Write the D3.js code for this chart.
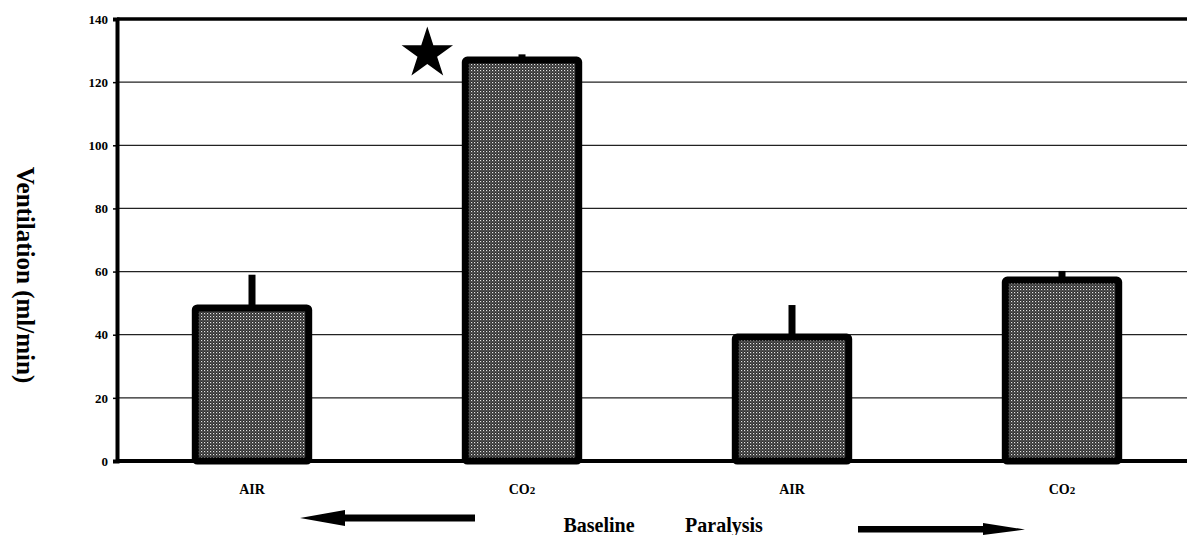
<!DOCTYPE html>
<html>
<head>
<meta charset="utf-8">
<script src="https://cdn.jsdelivr.net/npm/d3@7"></script>
<style>
  body { margin: 0; background: #fff; overflow: hidden; }
  svg { display: block; font-family: "Liberation Serif", "DejaVu Serif", serif; font-weight: bold; }
</style>
</head>
<body>
<svg id="chart" width="1187" height="535"></svg>
<script>
const categories = ['AIR', 'CO2', 'AIR', 'CO2'];
const values = [48.5, 127, 39.3, 57.3];
const errors = [10.5, 1.8, 10.1, 2.9];
const yTicks = [0, 20, 40, 60, 80, 100, 120, 140];
const starIndex = 1;
const starValue = 130;

const margin = { top: 19, right: -10, bottom: 74, left: 117 },
  width = 1187 - margin.left - margin.right,
  height = 535 - margin.top - margin.bottom;

const svg = d3.select('#chart');

// stipple fill of the bars
const defs = svg.append('defs');
const pat = defs.append('pattern')
  .attr('id', 'stipple')
  .attr('width', 3).attr('height', 3)
  .attr('patternUnits', 'userSpaceOnUse');
pat.append('rect').attr('width', 3).attr('height', 3).attr('fill', '#2e2e2e');
pat.append('rect').attr('x', 0).attr('y', 0).attr('width', 1.2).attr('height', 1.2).attr('fill', '#e4e4e4');
pat.append('rect').attr('x', 1.5).attr('y', 1.5).attr('width', 1).attr('height', 1).attr('fill', '#9a9a9a');

const g = svg.append('g')
  .attr('transform', 'translate(' + margin.left + ',' + margin.top + ')');

const x = d3.scaleBand()
  .domain(d3.range(categories.length))
  .range([0, width])
  .paddingInner(0.58)
  .paddingOuter(0.29);

const y = d3.scaleLinear()
  .domain([0, 140])
  .range([height, 0]);

// grid lines
g.append('g')
  .selectAll('line')
  .data(yTicks.filter(d => d > 0 && d < 140))
  .join('line')
  .attr('x1', 0).attr('x2', width)
  .attr('y1', d => y(d)).attr('y2', d => y(d))
  .attr('stroke', '#222').attr('stroke-width', 1.2);

// top frame line
g.append('line')
  .attr('x1', 0).attr('x2', width)
  .attr('y1', y(140)).attr('y2', y(140))
  .attr('stroke', '#000').attr('stroke-width', 3.5);

// error bars (drawn under the bars)
g.append('g')
  .selectAll('line')
  .data(values)
  .join('line')
  .attr('x1', (d, i) => x(i) + x.bandwidth() / 2)
  .attr('x2', (d, i) => x(i) + x.bandwidth() / 2)
  .attr('y1', d => y(d))
  .attr('y2', (d, i) => y(d + errors[i]))
  .attr('stroke', '#000').attr('stroke-width', 7);

// bars
g.append('g')
  .selectAll('rect')
  .data(values)
  .join('rect')
  .attr('x', (d, i) => x(i))
  .attr('y', d => y(d))
  .attr('width', x.bandwidth())
  .attr('height', d => y(0) - y(d))
  .attr('rx', 2)
  .attr('fill', 'url(#stipple)')
  .attr('stroke', '#000')
  .attr('stroke-width', 7);

// y axis
const yAxis = d3.axisLeft(y)
  .tickValues(yTicks)
  .tickSize(4)
  .tickPadding(5);
const ya = g.append('g').call(yAxis);
ya.select('.domain').attr('stroke-width', 4);
ya.selectAll('.tick line').attr('stroke-width', 1.5);
ya.selectAll('.tick text')
  .attr('font-size', 13)
  .attr('font-family', '"Liberation Serif", serif')
  .attr('font-weight', 'bold')
  .attr('fill', '#000');

// x axis baseline
g.append('line')
  .attr('x1', 0).attr('x2', width)
  .attr('y1', y(0)).attr('y2', y(0))
  .attr('stroke', '#000').attr('stroke-width', 4);

// category labels
const lab = g.append('g')
  .selectAll('text')
  .data(categories)
  .join('text')
  .attr('x', (d, i) => x(i) + x.bandwidth() / 2)
  .attr('y', height + 33)
  .attr('text-anchor', 'middle')
  .attr('font-size', 14);
lab.each(function (d) {
  const t = d3.select(this);
  if (d === 'CO2') {
    t.append('tspan').text('CO');
    t.append('tspan').attr('font-size', 11).text('2');
  } else {
    t.text(d);
  }
});

// star over the CO2 bar
g.append('path')
  .attr('d', d3.symbol(d3.symbolStar, 820)())
  .attr('transform', 'translate(' + (x(starIndex) - 38) + ',' + (y(starValue) + 3) + ')')
  .attr('fill', '#000');

// y title
svg.append('text')
  .attr('transform', 'translate(17,275) rotate(90)')
  .attr('text-anchor', 'middle')
  .attr('font-size', 25)
  .text('Ventilation (ml/min)');

// bottom annotations
svg.append('text')
  .attr('x', 599).attr('y', 532)
  .attr('text-anchor', 'middle')
  .attr('font-size', 20)
  .text('Baseline');
svg.append('text')
  .attr('x', 724).attr('y', 532)
  .attr('text-anchor', 'middle')
  .attr('font-size', 20)
  .text('Paralysis');

// left arrow
svg.append('path')
  .attr('d', 'M300,518 L345,510 L345,514.5 L475,514.5 L475,521.5 L345,521.5 L345,526 Z')
  .attr('fill', '#000');
// right arrow
svg.append('path')
  .attr('d', 'M858,526 L983,526 L983,523 L1025,529.5 L983,535 L983,532.5 L858,532.5 Z')
  .attr('fill', '#000');
</script>
</body>
</html>
